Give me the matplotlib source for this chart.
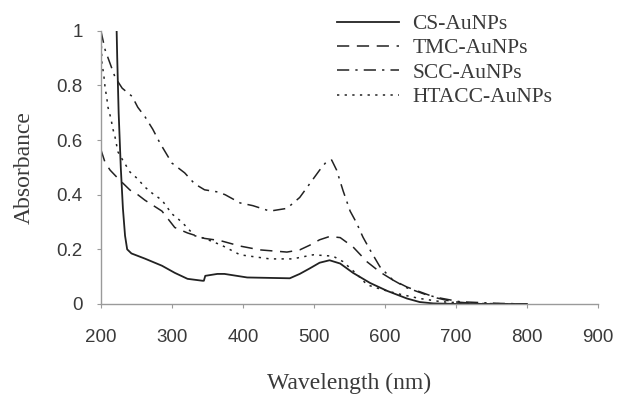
import matplotlib.pyplot as plt

# UV-vis spectra
cs_wl = [222, 223, 225, 228, 231, 234, 237, 243, 262, 286, 304, 322, 343, 345, 347, 364, 374,
         406, 466, 480, 494, 508, 522, 537, 555, 579, 603, 631, 649, 668, 700, 800]
cs_abs = [1.02, 0.9, 0.7, 0.5, 0.35, 0.25, 0.2, 0.185, 0.166, 0.14, 0.114, 0.092, 0.085, 0.085,
          0.103, 0.11, 0.11, 0.097, 0.094, 0.11, 0.13, 0.151, 0.16, 0.148, 0.114, 0.077,
          0.048, 0.02, 0.007, 0.002, 0.0, 0.0]

tmc_wl = [200, 206, 213, 224, 241, 252, 262, 286, 304, 322, 346, 368, 396, 424, 462, 480,
          494, 508, 522, 537, 555, 575, 593, 611, 631, 654, 673, 696, 738, 800]
tmc_abs = [0.565, 0.517, 0.49, 0.46, 0.417, 0.4, 0.38, 0.34, 0.28, 0.26, 0.24, 0.232, 0.212,
           0.198, 0.19, 0.198, 0.215, 0.235, 0.247, 0.243, 0.209, 0.154, 0.117, 0.088, 0.062,
           0.04, 0.022, 0.008, 0.0, 0.0]

scc_wl = [200, 206, 213, 220, 230, 244, 252, 262, 273, 283, 300, 318, 332, 346, 365, 375,
          396, 414, 438, 462, 480, 494, 508, 518, 525, 532, 541, 551, 560, 569, 579, 593,
          611, 631, 659, 677, 706, 762, 800]
scc_abs = [1.0, 0.93, 0.88, 0.83, 0.79, 0.76, 0.72, 0.686, 0.64, 0.59, 0.516, 0.48, 0.44,
           0.418, 0.41, 0.40, 0.37, 0.36, 0.34, 0.35, 0.39, 0.44, 0.49, 0.522, 0.527, 0.49,
           0.415, 0.34, 0.297, 0.245, 0.198, 0.136, 0.088, 0.059, 0.033, 0.022, 0.008, 0.002, 0.0]

htacc_wl = [200, 201.5, 204, 206, 208, 210, 214, 217, 220, 224, 230, 241, 251, 262, 272, 286,
            300, 314, 332, 346, 370, 396, 438, 470, 499, 527, 541, 560, 575, 593, 617, 649,
            680, 720, 800]
htacc_abs = [1.0, 0.88, 0.84, 0.79, 0.76, 0.72, 0.68, 0.64, 0.61, 0.557, 0.53, 0.483, 0.46,
             0.428, 0.406, 0.38, 0.33, 0.30, 0.25, 0.24, 0.215, 0.18, 0.165, 0.165, 0.18, 0.175,
             0.155, 0.11, 0.07, 0.055, 0.038, 0.02, 0.008, 0.002, 0.0]

xticks = [200, 300, 400, 500, 600, 700, 800, 900]
yticks = [0, 0.2, 0.4, 0.6, 0.8, 1]
ytick_labels = ['0', '0.2', '0.4', '0.6', '0.8', '1']

ink = '#222222'
text_grey = '#3a3a3a'
axis_grey = '#9a9a9a'

fig = plt.figure(figsize=(6.19, 4.01), dpi=100)
ax = fig.add_axes([0.163, 0.242, 0.803, 0.681])

ax.plot(cs_wl, cs_abs, color=ink, lw=1.3, ls='-', label='CS-AuNPs')
ax.plot(tmc_wl, tmc_abs, color=ink, lw=1.1, ls=(0, (8, 5)), label='TMC-AuNPs')
ax.plot(scc_wl, scc_abs, color=ink, lw=1.1, ls=(0, (8, 4, 1.5, 4)), label='SCC-AuNPs')
ax.plot(htacc_wl, htacc_abs, color=ink, lw=1.1, ls=(0, (1.5, 3.5)), label='HTACC-AuNPs')

ax.set_xlim(200, 900)
ax.set_ylim(0, 1)
ax.set_xticks(xticks)
ax.set_yticks(yticks)
ax.set_yticklabels(ytick_labels)

for side in ['top', 'right']:
    ax.spines[side].set_visible(False)
for side in ['left', 'bottom']:
    ax.spines[side].set_color(axis_grey)
    ax.spines[side].set_linestyle((0, (6, 1)))
    ax.spines[side].set_linewidth(1.0)

ax.tick_params(axis='both', direction='out', length=3, color=axis_grey,
               labelsize=13.5, labelcolor=text_grey)
for lbl in ax.get_xticklabels() + ax.get_yticklabels():
    lbl.set_family('Liberation Sans')
ax.tick_params(axis='x', pad=15)
ax.tick_params(axis='y', pad=10)

ax.set_xlabel('Wavelength (nm)', family='Liberation Serif', fontsize=17,
              color=text_grey, labelpad=19)
ax.set_ylabel('Absorbance', family='Liberation Serif', fontsize=17,
              color=text_grey, labelpad=16)

leg = ax.legend(loc='upper left', bbox_to_anchor=(337 / 619, 1 - 14 / 401),
                bbox_transform=fig.transFigure, frameon=False,
                prop={'family': 'Liberation Serif', 'size': 15.5},
                handlelength=2.9, handletextpad=0.6, labelspacing=0.2,
                borderpad=0, borderaxespad=0)
for t in leg.get_texts():
    t.set_color(text_grey)

fig.savefig('out.png', dpi=100)
